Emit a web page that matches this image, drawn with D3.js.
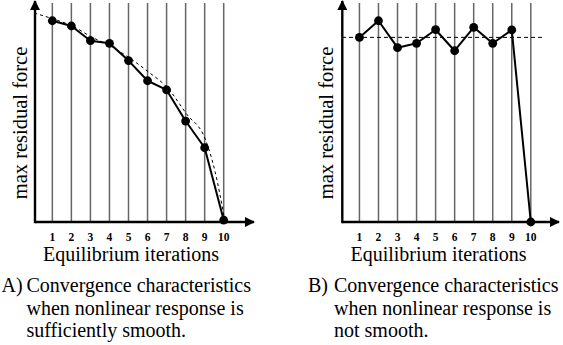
<!DOCTYPE html>
<html>
<head>
<meta charset="utf-8">
<script src="https://cdn.jsdelivr.net/npm/d3@7"></script>
<style>
  html, body { margin: 0; padding: 0; background: #fff; }
  svg { display: block; }
</style>
</head>
<body>
<svg id="chart" width="563" height="345"></svg>
<script>
// Iteration numbers along the horizontal axis
const iterations = [1, 2, 3, 4, 5, 6, 7, 8, 9, 10];
const tickLabels = ["1", "2", "3", "4", "5", "6", "7", "8", "9", "10"];

// Panel A: smooth response, residual decays steadily
const residualA = [91.9, 89.5, 82.8, 81.6, 73.7, 64.5, 60.3, 46.1, 33.9, 0.9];
// Idealised convergence trend drawn dashed behind panel A
const trendIterA = [0, 1, 2, 3, 4, 5, 6, 7, 8, 9, 9.5, 10];
const trendValA = [95.4, 92.7, 89.5, 84.5, 80.4, 74.9, 68.5, 61.2, 49.3, 37.4, 22.8, 0.9];

// Panel B: non-smooth response, residual oscillates then drops
const residualB = [84.3, 91.9, 79.6, 81.6, 87.8, 78.2, 88.9, 81.6, 87.7, 0];
const levelB = 84.3;

const xLabel = "Equilibrium iterations";
const yLabel = "max residual force";
const captionA = ["A)", "Convergence characteristics", "when nonlinear response is", "sufficiently smooth."];
const captionB = ["B)", "Convergence characteristics", "when nonlinear response is", "not smooth."];

const FONT = "'Liberation Serif', Tinos, 'Times New Roman', Times, 'DejaVu Serif', serif";

const svg = d3.select("#chart");

const defs = svg.append("defs");
defs.append("marker")
  .attr("id", "arrow")
  .attr("viewBox", "0 0 10 10")
  .attr("refX", 9).attr("refY", 5)
  .attr("markerWidth", 4.2).attr("markerHeight", 4.2)
  .attr("markerUnits", "strokeWidth")
  .attr("orient", "auto")
  .append("path")
  .attr("d", "M0,0 L10,5 L0,10 Z")
  .attr("fill", "#000");

function panel(opts) {
  const g = svg.append("g").attr("font-family", FONT);
  const x = d3.scaleLinear().domain([0, 10]).range([opts.x0, opts.x0 + 190.4]);
  const y = d3.scaleLinear().domain([0, 100]).range([222, 3]);
  const axisLeft = opts.axisX;
  const axisY = 222;

  // vertical iteration gridlines
  g.selectAll("line.grid").data(iterations).join("line")
    .attr("class", "grid")
    .attr("x1", d => x(d)).attr("x2", d => x(d))
    .attr("y1", y(100)).attr("y2", axisY)
    .attr("stroke", "#666").attr("stroke-width", 1.5);

  // axes with arrow heads
  g.append("line")
    .attr("x1", axisLeft).attr("y1", axisY)
    .attr("x2", opts.xEnd).attr("y2", axisY)
    .attr("stroke", "#000").attr("stroke-width", 2.4)
    .attr("marker-end", "url(#arrow)");
  g.append("line")
    .attr("x1", axisLeft).attr("y1", axisY + 1.2)
    .attr("x2", axisLeft).attr("y2", 1)
    .attr("stroke", "#000").attr("stroke-width", 2.4)
    .attr("marker-end", "url(#arrow)");

  // tick labels under each gridline
  g.selectAll("text.tick").data(iterations).join("text")
    .attr("class", "tick")
    .attr("x", d => x(d)).attr("y", 241)
    .attr("text-anchor", "middle")
    .attr("font-size", 11.5).attr("font-weight", "bold")
    .text((d, i) => tickLabels[i]);

  opts.extra(g, x, y);

  // residual series
  const pts = iterations.map((d, i) => [d, opts.values[i]]);
  g.append("path")
    .datum(pts)
    .attr("fill", "none").attr("stroke", "#000").attr("stroke-width", 2)
    .attr("stroke-linejoin", "round")
    .attr("d", d3.line().x(d => x(d[0])).y(d => y(d[1])));
  g.selectAll("circle.pt").data(pts).join("circle")
    .attr("class", "pt")
    .attr("cx", d => x(d[0])).attr("cy", d => y(d[1]))
    .attr("r", 4.4).attr("fill", "#000");

  // axis titles
  g.append("text")
    .attr("x", opts.xTitleX).attr("y", 261)
    .attr("text-anchor", "middle").attr("font-size", 20)
    .text(xLabel);
  g.append("text")
    .attr("transform", `translate(${opts.yTitleX},123) rotate(-90)`)
    .attr("text-anchor", "middle").attr("font-size", 20.5)
    .text(yLabel);

  // caption
  const cap = opts.caption;
  g.append("text")
    .attr("x", opts.capX).attr("y", 292)
    .attr("font-size", 20)
    .text(cap[0]);
  cap.slice(1).forEach((line, i) => {
    g.append("text")
      .attr("x", opts.capTextX).attr("y", 292 + i * 22.5)
      .attr("font-size", 20)
      .text(line);
  });
}

panel({
  x0: 33.3, axisX: 35, xEnd: 254,
  values: residualA,
  xTitleX: 131, yTitleX: 27, capX: 1.5, capTextX: 26.5,
  caption: captionA,
  extra: (g, x, y) => {
    const trend = trendIterA.map((d, i) => [d, trendValA[i]]);
    g.append("path")
      .datum(trend)
      .attr("fill", "none").attr("stroke", "#000").attr("stroke-width", 1)
      .attr("stroke-dasharray", "3,3")
      .attr("d", d3.line().curve(d3.curveMonotoneX).x(d => x(d[0]) + 1).y(d => y(d[1])));
  }
});

panel({
  x0: 340.4, axisX: 342.3, xEnd: 559,
  values: residualB,
  xTitleX: 438.5, yTitleX: 333, capX: 308, capTextX: 334,
  caption: captionB,
  extra: (g, x, y) => {
    g.append("line")
      .attr("x1", 342).attr("x2", 544)
      .attr("y1", y(levelB)).attr("y2", y(levelB))
      .attr("stroke", "#000").attr("stroke-width", 1)
      .attr("stroke-dasharray", "4,3");
  }
});
</script>
</body>
</html>
